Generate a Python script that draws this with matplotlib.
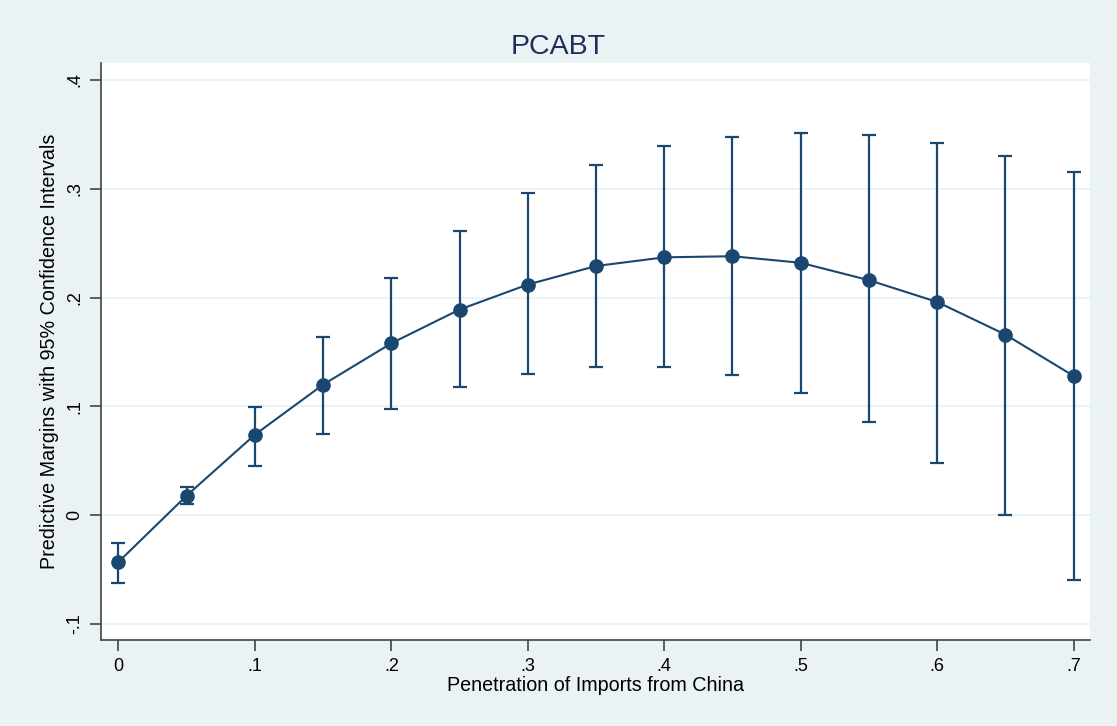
import matplotlib.pyplot as plt

# predictive margins
penetration = [0.0, 0.05, 0.1, 0.15, 0.2, 0.25, 0.3, 0.35, 0.4, 0.45, 0.5, 0.55, 0.6, 0.65, 0.7]
margin = [-0.043, 0.018, 0.074, 0.120, 0.158, 0.189, 0.212, 0.229, 0.237, 0.238, 0.232, 0.216, 0.196, 0.166, 0.128]
ci_upper = [-0.026, 0.026, 0.099, 0.164, 0.218, 0.261, 0.296, 0.322, 0.339, 0.348, 0.351, 0.349, 0.342, 0.330, 0.315]
ci_lower = [-0.062, 0.010, 0.045, 0.075, 0.098, 0.118, 0.130, 0.136, 0.136, 0.129, 0.112, 0.086, 0.048, 0.000, -0.060]

x_ticks = [0, 0.1, 0.2, 0.3, 0.4, 0.5, 0.6, 0.7]
x_ticklabels = ["0", ".1", ".2", ".3", ".4", ".5", ".6", ".7"]
y_ticks = [-0.1, 0, 0.1, 0.2, 0.3, 0.4]
y_ticklabels = ["-.1", "0", ".1", ".2", ".3", ".4"]

plt.rcParams["font.family"] = ["Liberation Sans", "DejaVu Sans"]

bg = "#eaf2f3"
navy = "#1a476f"

fig = plt.figure(figsize=(11.17, 7.26), dpi=100, facecolor=bg)
ax = fig.add_axes([0.0904, 0.1185, 0.8854, 0.7947])
ax.set_facecolor("white")

err_lo = [m - lo for m, lo in zip(margin, ci_lower)]
err_hi = [hi - m for m, hi in zip(margin, ci_upper)]
ax.errorbar(penetration, margin, yerr=[err_lo, err_hi], fmt="none",
            ecolor=navy, elinewidth=1.6, capsize=4.7, capthick=1.6, zorder=2)
ax.plot(penetration, margin, "-", color=navy, linewidth=1.5, zorder=3)
ax.plot(penetration, margin, "o", color=navy, markersize=9.5, zorder=4)

ax.set_xlim(-0.0128, 0.712)
ax.set_ylim(-0.1147, 0.4156)
ax.set_xticks(x_ticks)
ax.set_xticklabels(x_ticklabels)
ax.set_yticks(y_ticks)
ax.set_yticklabels(y_ticklabels, rotation=90, va="center")

ax.grid(True, axis="y", color=bg, linewidth=1.5)
ax.set_axisbelow(True)

for side in ["top", "right"]:
    ax.spines[side].set_visible(False)
for side in ["left", "bottom"]:
    ax.spines[side].set_color("#444444")
    ax.spines[side].set_linewidth(1.2)

ax.tick_params(axis="both", direction="out", length=8, width=1.2,
               color="#444444", labelsize=13, labelcolor="black", pad=5)

# title is centred on the whole figure, not on the plot region
fig.text(0.5, 0.935, "PCABT", fontsize=20.5, color="#1e2d5a", ha="center", va="center")
ax.set_xlabel("Penetration of Imports from China", fontsize=14.2, labelpad=1)
ax.set_ylabel("Predictive Margins with 95% Confidence Intervals", fontsize=14.2, labelpad=5)

fig.savefig("out.png", dpi=100, facecolor=bg)
